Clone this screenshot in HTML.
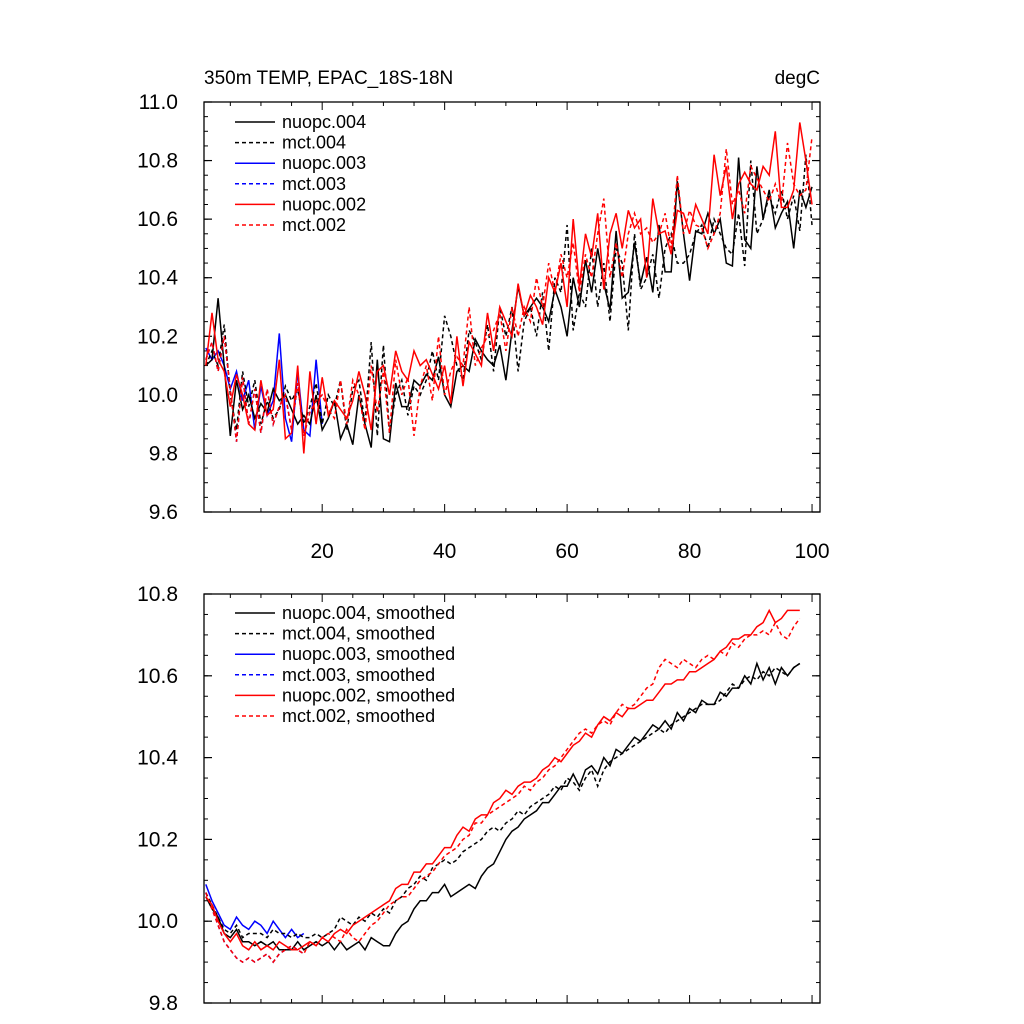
<!DOCTYPE html>
<html><head><meta charset="utf-8"><style>
body{margin:0;background:#fff}
svg{display:block;font-family:"Liberation Sans",Arial,sans-serif}
</style></head><body>
<svg id="c" width="1024" height="1024" xmlns="http://www.w3.org/2000/svg"></svg>
<script>
const xTicks=[20,40,60,80,100];
const topYTicks=[9.6,9.8,10.0,10.2,10.4,10.6,10.8,11.0];
const botYTicks=[9.8,10.0,10.2,10.4,10.6,10.8];
const legendTop=["nuopc.004","mct.004","nuopc.003","mct.003","nuopc.002","mct.002"];
const legendBot=["nuopc.004, smoothed","mct.004, smoothed","nuopc.003, smoothed","mct.003, smoothed","nuopc.002, smoothed","mct.002, smoothed"];
const topN004=[10.10,10.12,10.33,10.10,9.86,10.05,9.95,10.00,9.92,9.97,9.94,10.02,9.98,10.00,9.95,9.90,9.93,9.90,10.00,9.88,9.92,9.98,9.85,9.90,9.83,10.00,9.90,9.82,10.12,9.85,9.84,10.04,9.96,9.96,10.05,10.03,10.07,10.05,10.13,10.00,9.96,10.08,10.10,10.08,10.19,10.15,10.12,10.10,10.17,10.05,10.22,10.37,10.27,10.30,10.33,10.30,10.25,10.36,10.30,10.20,10.40,10.30,10.46,10.35,10.50,10.38,10.29,10.56,10.33,10.35,10.52,10.38,10.47,10.35,10.58,10.42,10.42,10.73,10.55,10.39,10.56,10.55,10.62,10.55,10.60,10.45,10.44,10.81,10.53,10.50,10.78,10.60,10.70,10.57,10.62,10.66,10.50,10.70,10.64,10.71];
const topM004=[10.10,10.15,10.10,10.24,10.00,9.88,10.08,9.96,10.05,9.90,9.98,9.92,9.95,10.03,9.98,10.02,9.90,9.96,10.04,9.90,10.00,9.96,10.05,9.88,10.02,10.05,9.90,10.18,9.86,10.17,9.87,10.00,10.05,9.93,10.03,10.00,10.05,10.15,10.05,10.27,10.20,10.10,10.05,10.22,10.18,10.12,10.24,10.08,10.30,10.20,10.30,10.08,10.25,10.30,10.20,10.35,10.15,10.40,10.35,10.58,10.22,10.35,10.30,10.50,10.30,10.45,10.25,10.50,10.45,10.22,10.55,10.36,10.40,10.48,10.33,10.50,10.55,10.45,10.45,10.48,10.55,10.58,10.50,10.60,10.55,10.50,10.48,10.62,10.44,10.80,10.55,10.60,10.68,10.62,10.70,10.60,10.68,10.56,10.82,10.58];
const topN003=[10.16,10.12,10.15,10.10,10.02,10.08,9.98,10.05,9.88,10.03,9.93,9.98,10.21,9.92,9.84,10.08,9.88,9.86,10.12,9.90];
const topM003=[10.12,10.18,10.08,10.20,10.02,9.84,10.06,9.90,10.02,9.87,10.02,9.90,9.96,10.00,9.88,10.04,9.86,9.94,9.98,10.00];
const topN002=[10.10,10.28,10.12,10.08,9.96,10.07,10.00,9.90,9.88,10.05,9.93,9.95,10.12,9.85,9.87,10.10,9.80,10.08,9.90,10.06,9.93,9.98,9.95,9.92,9.98,10.08,10.00,9.88,10.08,10.10,10.00,10.15,10.08,10.05,10.15,10.10,10.12,10.07,10.02,10.10,9.97,10.20,10.03,10.18,10.14,10.10,10.28,10.15,10.30,10.25,10.20,10.38,10.27,10.34,10.30,10.24,10.40,10.35,10.45,10.30,10.60,10.37,10.55,10.47,10.62,10.36,10.55,10.62,10.50,10.63,10.57,10.60,10.40,10.67,10.55,10.56,10.48,10.63,10.62,10.55,10.65,10.60,10.55,10.82,10.68,10.78,10.60,10.72,10.76,10.72,10.70,10.78,10.75,10.90,10.64,10.64,10.70,10.93,10.80,10.65];
const topM002=[10.12,10.18,10.08,10.20,10.02,9.84,10.06,9.90,10.02,9.87,10.02,9.90,9.96,10.00,9.88,10.04,9.86,9.94,9.98,10.00,9.95,9.92,10.05,9.90,10.05,10.00,9.88,10.10,9.94,10.08,9.87,10.12,10.00,10.06,9.86,10.03,10.10,9.98,10.20,10.00,10.08,10.13,10.10,10.30,10.10,10.16,10.20,10.22,10.28,10.15,10.30,10.20,10.30,10.25,10.40,10.30,10.45,10.35,10.48,10.40,10.52,10.35,10.48,10.40,10.55,10.67,10.40,10.52,10.40,10.55,10.62,10.55,10.57,10.52,10.55,10.62,10.50,10.75,10.55,10.63,10.58,10.57,10.50,10.55,10.62,10.84,10.65,10.70,10.62,10.78,10.74,10.70,10.66,10.72,10.65,10.86,10.72,10.68,10.70,10.88];
const botN004=[10.06,10.03,10.01,9.97,9.96,9.98,9.95,9.95,9.94,9.95,9.94,9.95,9.93,9.93,9.93,9.95,9.93,9.94,9.95,9.94,9.95,9.93,9.95,9.93,9.94,9.95,9.93,9.96,9.95,9.94,9.94,9.97,9.99,10.00,10.03,10.05,10.05,10.07,10.07,10.09,10.06,10.07,10.08,10.09,10.08,10.11,10.13,10.14,10.17,10.20,10.22,10.23,10.25,10.26,10.27,10.29,10.29,10.31,10.33,10.33,10.36,10.33,10.37,10.38,10.36,10.40,10.38,10.42,10.41,10.43,10.45,10.44,10.46,10.48,10.47,10.49,10.47,10.51,10.49,10.52,10.51,10.54,10.53,10.53,10.56,10.55,10.57,10.57,10.60,10.58,10.63,10.59,10.62,10.58,10.62,10.60,10.62,10.63];
const botM004=[10.07,10.04,10.01,9.98,9.97,9.99,9.96,9.97,9.97,9.97,9.96,9.98,9.97,9.97,9.96,9.97,9.96,9.96,9.97,9.96,9.97,9.98,10.01,10.00,9.99,10.01,10.00,10.02,10.01,10.03,10.02,10.05,10.06,10.08,10.09,10.11,10.10,10.13,10.14,10.15,10.14,10.15,10.17,10.18,10.19,10.20,10.22,10.23,10.22,10.24,10.25,10.27,10.26,10.28,10.29,10.30,10.31,10.33,10.32,10.35,10.34,10.32,10.35,10.37,10.33,10.37,10.39,10.40,10.41,10.42,10.43,10.44,10.45,10.46,10.47,10.46,10.48,10.49,10.50,10.51,10.52,10.53,10.53,10.53,10.54,10.56,10.58,10.57,10.59,10.60,10.59,10.61,10.60,10.62,10.61,10.60,10.62,10.63];
const botN003=[10.09,10.05,10.02,9.99,9.98,10.01,9.99,9.98,10.00,9.99,9.97,10.00,9.98,9.96,9.98,9.96,9.97];
const botM003=[10.07,10.03,9.99,9.95,9.93,9.91,9.90,9.91,9.90,9.91,9.92,9.90,9.92,9.93,9.94,9.93,9.92];
const botN002=[10.06,10.04,10.00,9.97,9.95,9.97,9.94,9.93,9.95,9.93,9.94,9.93,9.95,9.94,9.93,9.93,9.94,9.95,9.94,9.96,9.95,9.97,9.98,9.97,9.99,10.00,10.01,10.02,10.03,10.04,10.05,10.08,10.09,10.09,10.12,10.12,10.14,10.14,10.16,10.18,10.18,10.21,10.23,10.22,10.25,10.26,10.26,10.29,10.30,10.32,10.31,10.33,10.34,10.34,10.35,10.37,10.38,10.40,10.39,10.41,10.43,10.44,10.46,10.45,10.48,10.50,10.49,10.51,10.50,10.52,10.52,10.53,10.54,10.54,10.56,10.58,10.58,10.59,10.59,10.61,10.61,10.62,10.63,10.64,10.66,10.67,10.69,10.69,10.70,10.70,10.72,10.73,10.76,10.73,10.74,10.76,10.76,10.76];
const botM002=[10.07,10.03,9.99,9.95,9.93,9.91,9.90,9.91,9.90,9.91,9.92,9.90,9.92,9.93,9.94,9.93,9.92,9.95,9.94,9.96,9.97,9.96,9.95,9.98,9.96,9.95,9.97,9.99,10.00,10.02,10.04,10.05,10.06,10.06,10.08,10.10,10.11,10.12,10.14,10.16,10.17,10.18,10.20,10.21,10.24,10.24,10.26,10.27,10.28,10.29,10.30,10.31,10.33,10.32,10.34,10.35,10.37,10.38,10.40,10.42,10.44,10.46,10.47,10.46,10.48,10.49,10.48,10.51,10.53,10.52,10.53,10.55,10.57,10.58,10.62,10.64,10.63,10.62,10.64,10.63,10.62,10.64,10.65,10.64,10.66,10.65,10.68,10.67,10.69,10.70,10.70,10.71,10.70,10.73,10.70,10.69,10.72,10.74];

const NS="http://www.w3.org/2000/svg";
const svg=document.getElementById('c');
function mk(t,a,p){const e=document.createElementNS(NS,t);for(const k in a)e.setAttribute(k,a[k]);(p||svg).appendChild(e);return e;}
const X0=204,X1=820,XMIN=0.7,XMAX=101.3;
const sx=v=>X0+(v-XMIN)/(XMAX-XMIN)*(X1-X0);

function panel(name,T,B,ymin,ymax,yTicks,xLabels){
  const g=mk('g',{});
  
  
  const sy=v=>B-(v-ymin)/(ymax-ymin)*(B-T);
  for(let v=ymin;v<=ymax+1e-9;v+=0.05){
    const y=sy(v);
    mk('line',{x1:X0,x2:X0+4,y1:y,y2:y,stroke:'#000','stroke-width':1},g);
    mk('line',{x1:X1,x2:X1-4,y1:y,y2:y,stroke:'#000','stroke-width':1},g);
  }
  yTicks.forEach(v=>{
    const y=sy(v);
    mk('line',{x1:X0,x2:X0+8,y1:y,y2:y,stroke:'#000','stroke-width':1.2},g);
    mk('line',{x1:X1,x2:X1-8,y1:y,y2:y,stroke:'#000','stroke-width':1.2},g);
    const t=mk('text',{x:X0-26,y:y+7,'text-anchor':'end','font-size':21},g);
    t.textContent=v.toFixed(1);
    
    
  });
  for(let v=5;v<=100;v+=5){
    const x=sx(v),L=(v%20===0)?8:4;
    mk('line',{x1:x,x2:x,y1:B,y2:B-L,stroke:'#000','stroke-width':1},g);
    mk('line',{x1:x,x2:x,y1:T,y2:T+L,stroke:'#000','stroke-width':1},g);
  }
  if(xLabels) xTicks.forEach(v=>{
    const t=mk('text',{x:sx(v),y:B+46,'text-anchor':'middle','font-size':21},g);
    t.textContent=v;
    
    
  });
  const r=mk('rect',{x:X0,y:T,width:X1-X0,height:B-T,fill:'none',stroke:'#000','stroke-width':1.3},g);
  
  
  return {g,sy};
}
function series(p,arr,color,dash,name){
  const pts=arr.map((v,i)=>sx(i+1).toFixed(1)+','+p.sy(v).toFixed(1)).join(' ');
  const a={points:pts,fill:'none',stroke:color,'stroke-width':1.5};
  if(dash)a['stroke-dasharray']='4,3';
  const e=mk('polyline',a,p.g);
  
  
}
function legend(p,labels,y0,dy){
  const cols=['#000','#000','#0000ff','#0000ff','#ff0000','#ff0000'];
  labels.forEach((l,i)=>{
    const y=y0+i*dy;
    const a={x1:235,x2:275,y1:y,y2:y,stroke:cols[i],'stroke-width':1.5};
    if(i%2)a['stroke-dasharray']='4,3';
    const ln=mk('line',a,p.g);
    
    
    const t=mk('text',{x:282,y:y+6,'font-size':18},p.g);
    t.textContent=l;
    
    
  });
}
const topP=panel('top-panel',102,512,9.6,11.0,topYTicks,true);
series(topP,topM003,'#0000ff',true,'mct003-line');
series(topP,topN003,'#0000ff',false,'nuopc003-line');
series(topP,topM004,'#000',true,'mct004-line');
series(topP,topN004,'#000',false,'nuopc004-line');
series(topP,topM002,'#ff0000',true,'mct002-line');
series(topP,topN002,'#ff0000',false,'nuopc002-line');
legend(topP,legendTop,122,20.6);
const t1=mk('text',{x:204,y:84,'font-size':19});
t1.textContent='350m TEMP, EPAC_18S-18N';


const t2=mk('text',{x:820,y:84,'font-size':19,'text-anchor':'end'});
t2.textContent='degC';



const botP=panel('bottom-panel',594,1003,9.8,10.8,botYTicks,false);
series(botP,botM003,'#0000ff',true,'mct003-smoothed-line');
series(botP,botN003,'#0000ff',false,'nuopc003-smoothed-line');
series(botP,botM004,'#000',true,'mct004-smoothed-line');
series(botP,botN004,'#000',false,'nuopc004-smoothed-line');
series(botP,botM002,'#ff0000',true,'mct002-smoothed-line');
series(botP,botN002,'#ff0000',false,'nuopc002-smoothed-line');
legend(botP,legendBot,613,20.6);
</script>
</body></html>
